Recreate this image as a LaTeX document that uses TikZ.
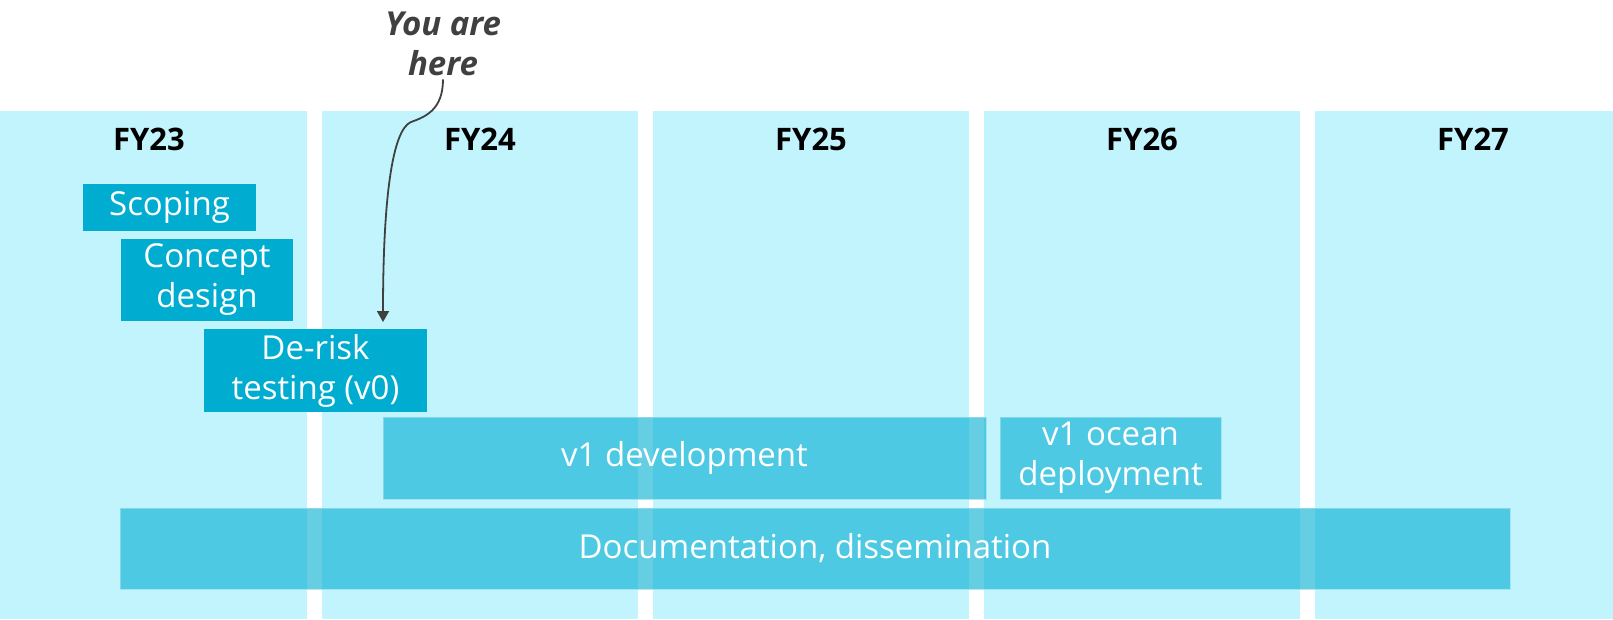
\documentclass[tikz,border=0pt]{standalone}
\usepackage{fontspec}
\setmainfont{Open Sans}
\usetikzlibrary{arrows.meta}
\definecolor{colbg}{RGB}{194,244,254}
\definecolor{taskblue}{RGB}{0,173,209}
\definecolor{notegray}{RGB}{64,64,64}

\begin{document}
\begin{tikzpicture}[x=1pt,y=-1pt,
    year/.style={font=\fontsize{31}{36}\selectfont\bfseries,text=black},
    task/.style={fill=taskblue,text=white,inner sep=0pt,align=center,
        font=\fontsize{33}{40}\selectfont},
    longtask/.style={task,fill opacity=0.6,text opacity=1,
        draw=taskblue!40!white,draw opacity=0.7,line width=1pt},
    note/.style={font=\fontsize{33}{40}\selectfont\bfseries\itshape,
        text=notegray,align=center}]
    \useasboundingbox(0,0)rectangle(1613,619);
    \clip(0,0)rectangle(1613,619);
    % year columns
    \foreach \k/\yr in {0/23,1/24,2/25,3/26,4/27}{
        \fill[colbg]({-9+331*\k},111)rectangle({307+331*\k},619);
        \node[year](fy\yr)at({149+331*\k},139){FY\yr};
    }
    % tasks
    \node[task,minimum width=173,minimum height=47](scope)at(169.5,207.5){Scoping};
    \node[task,minimum width=172,minimum height=82](concept)at(207,280){Concept\\design};
    \node[task,minimum width=223,minimum height=83](derisk)at(315.5,370.5){De-risk\\testing (v0)};
    \node[longtask,minimum width=603,minimum height=82](vdev)at(684.5,458){v1 development};
    \node[longtask,minimum width=221,minimum height=82](vocean)at(1110.5,458){v1 ocean\\deployment};
    \node[longtask,minimum width=1390,minimum height=81](docs)at(815,548.5){Documentation, dissemination};
    % marker
    \node[note](here)at(443,44){You are\\here};
    \coordinate(tip)at(383,322);
    \draw[notegray,line width=1.8pt,-{Triangle[length=11pt,width=12pt]}]
        (here.south)..controls(443,110)and(425,117)..(411,122)
        ..controls(392,130)and(383,200)..(tip);
\end{tikzpicture}
\end{document}
